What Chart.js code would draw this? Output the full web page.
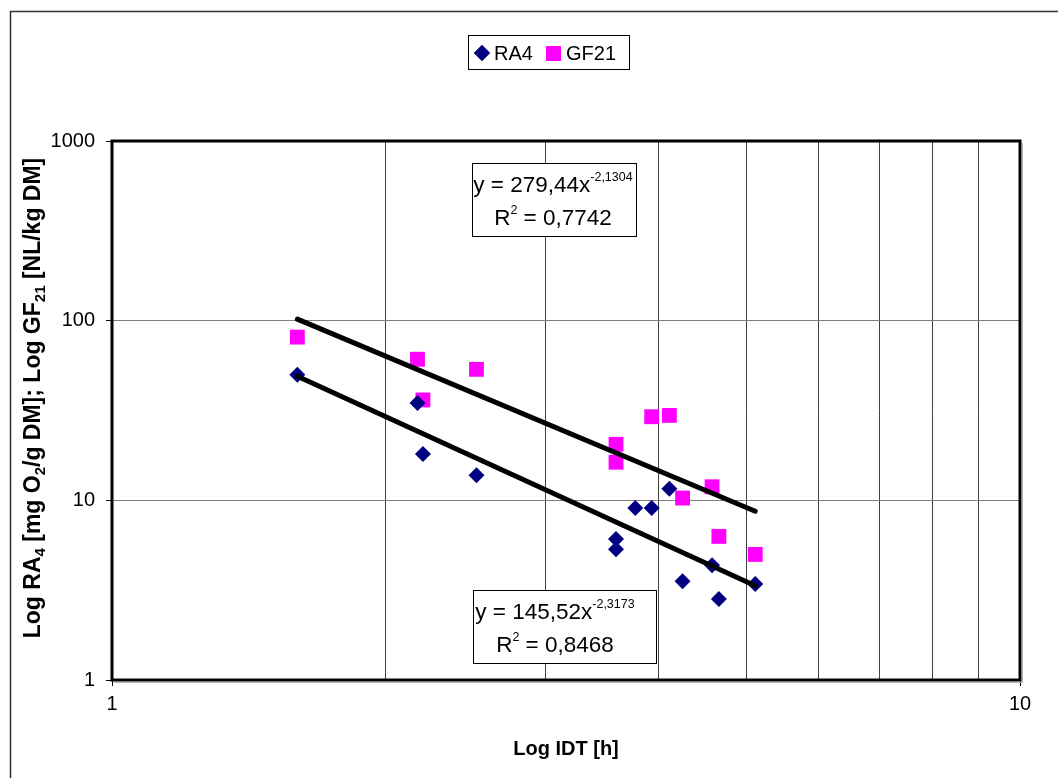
<!DOCTYPE html>
<html>
<head>
<meta charset="utf-8">
<script src="https://cdn.jsdelivr.net/npm/chart.js"></script>
<style>
  body { margin: 0; background: #fff; }
  #wrap { width: 1058px; height: 778px; position: relative; }
</style>
</head>
<body>
<div id="wrap"><canvas id="chart"></canvas></div>
<script>
// Values (x = IDT [h], y = RA4 / GF21)
const ra4X = [1.60, 2.17, 2.20, 2.52, 3.59, 3.59, 3.77, 3.93, 4.11, 4.25, 4.58, 4.66, 5.11];
const ra4Y = [50, 34.8, 18.1, 13.8, 6.1, 5.35, 9.05, 9.05, 11.6, 3.55, 4.35, 2.82, 3.42];
const gf21X = [1.60, 2.17, 2.20, 2.52, 3.59, 3.59, 3.93, 4.11, 4.25, 4.58, 4.66, 5.11];
const gf21Y = [81, 61, 36.2, 53.6, 20.5, 16.3, 29.2, 29.7, 10.3, 11.9, 6.3, 5.0];

// Power trend lines (straight in log-log), start and end points
const trendX = [1.60, 5.11];
const trendGF21Y = [102, 8.7];
const trendRA4Y = [49, 3.35];

const xTicks = [1, 2, 3, 4, 5, 6, 7, 8, 9, 10];
const xLabels = ['1', '', '', '', '', '', '', '', '', '10'];
const yTicks = [1, 10, 100, 1000];
const yLabels = ['1', '10', '100', '1000'];

const FONT = 'Arial, "Liberation Sans", sans-serif';
const NAVY = '#000080';
const MAGENTA = '#ff00ff';

const toPoints = (xs, ys) => xs.map((x, i) => ({ x: x, y: ys[i] }));

// draws text runs with sub/superscripts, starting at x
function drawRuns(ctx, runs, x, y) {
  runs.forEach(r => {
    ctx.font = r.font;
    ctx.fillText(r.t, x, y + (r.dy || 0));
    x += ctx.measureText(r.t).width;
  });
}
function runsWidth(ctx, runs) {
  let w = 0;
  runs.forEach(r => { ctx.font = r.font; w += ctx.measureText(r.t).width; });
  return w;
}

const extras = {
  id: 'extras',
  beforeDraw(chart) {
    const ctx = chart.ctx;
    ctx.save();
    ctx.fillStyle = '#fff';
    ctx.fillRect(0, 0, chart.width, chart.height);
    // outer frame
    ctx.strokeStyle = '#333';
    ctx.lineWidth = 1.5;
    ctx.strokeRect(10.5, 11.5, 1200, 1000);
    ctx.restore();
  },
  afterDraw(chart) {
    const ctx = chart.ctx;
    const a = chart.chartArea;
    ctx.save();

    // plot frame
    ctx.strokeStyle = '#b0b0b0';
    ctx.lineWidth = 1;
    ctx.beginPath();
    ctx.moveTo(a.right + 2.5, a.top + 2);
    ctx.lineTo(a.right + 2.5, a.bottom + 2.5);
    ctx.lineTo(a.left + 2, a.bottom + 2.5);
    ctx.stroke();
    ctx.strokeStyle = '#000';
    ctx.lineWidth = 3;
    ctx.strokeRect(a.left, a.top, a.right - a.left, a.bottom - a.top);

    // legend
    ctx.lineWidth = 1;
    ctx.strokeStyle = '#000';
    ctx.strokeRect(468.5, 35.5, 161, 34);
    Chart.helpers.drawPoint(ctx, { pointStyle: 'rectRot', radius: 8, rotation: 0, borderWidth: 0 }, 482, 53);
    ctx.fillStyle = NAVY;
    ctx.fill();
    ctx.fillStyle = MAGENTA;
    ctx.fillRect(546, 46, 15, 15);
    ctx.fillStyle = '#000';
    ctx.font = '20px ' + FONT;
    ctx.textBaseline = 'alphabetic';
    ctx.fillText('RA4', 494, 60);
    ctx.fillText('GF21', 566, 60);

    // trend equations
    const eqBox = (x, y, w, h, cx, a1, b1, r2) => {
      ctx.fillStyle = '#fff';
      ctx.fillRect(x, y, w, h);
      ctx.strokeStyle = '#000';
      ctx.lineWidth = 1;
      ctx.strokeRect(x + 0.5, y + 0.5, w, h);
      ctx.fillStyle = '#000';
      const big = '22.5px ' + FONT, small = '12.5px ' + FONT;
      const l1 = [{ t: 'y = ' + a1 + 'x', font: big }, { t: b1, font: small, dy: -11 }];
      const l2 = [{ t: 'R', font: big }, { t: '2', font: small, dy: -11 }, { t: ' = ' + r2, font: big }];
      drawRuns(ctx, l1, cx - runsWidth(ctx, l1) / 2, y + 29);
      drawRuns(ctx, l2, cx - runsWidth(ctx, l2) / 2, y + 62);
    };
    eqBox(472, 163, 164, 73, 553, '279,44', '-2,1304', '0,7742');
    eqBox(473, 590, 183, 73, 555, '145,52', '-2,3173', '0,8468');

    // axis titles
    ctx.fillStyle = '#000';
    ctx.font = 'bold 20px ' + FONT;
    ctx.textAlign = 'center';
    ctx.fillText('Log IDT [h]', 566, 755);
    ctx.textAlign = 'left';

    const b = 'bold 23px ' + FONT, s = 'bold 15px ' + FONT;
    const yRuns = [
      { t: 'Log RA', font: b }, { t: '4', font: s, dy: 5 },
      { t: ' [mg O', font: b }, { t: '2', font: s, dy: 5 },
      { t: '/g DM]; Log GF', font: b }, { t: '21', font: s, dy: 5 },
      { t: ' [NL/kg DM]', font: b }
    ];
    ctx.translate(40, 398);
    ctx.rotate(-Math.PI / 2);
    drawRuns(ctx, yRuns, -runsWidth(ctx, yRuns) / 2, 0);
    ctx.restore();
  }
};

new Chart(document.getElementById('chart'), {
  type: 'scatter',
  data: {
    datasets: [
      {
        label: 'RA4',
        data: toPoints(ra4X, ra4Y),
        pointStyle: 'rectRot',
        pointRadius: 8,
        backgroundColor: NAVY,
        borderColor: NAVY,
        borderWidth: 0,
        order: 2
      },
      {
        label: 'GF21',
        data: toPoints(gf21X, gf21Y),
        pointStyle: 'rect',
        pointRadius: 10.5,
        backgroundColor: MAGENTA,
        borderColor: MAGENTA,
        borderWidth: 0,
        order: 3
      },
      {
        label: 'Power (GF21)',
        data: toPoints(trendX, trendGF21Y),
        showLine: true,
        pointRadius: 0,
        borderColor: '#000',
        borderWidth: 5,
        borderCapStyle: 'round',
        order: 1
      },
      {
        label: 'Power (RA4)',
        data: toPoints(trendX, trendRA4Y),
        showLine: true,
        pointRadius: 0,
        borderColor: '#000',
        borderWidth: 5,
        borderCapStyle: 'round',
        order: 0
      }
    ]
  },
  options: {
    responsive: true,
    maintainAspectRatio: false,
    animation: false,
    events: [],
    layout: { padding: { top: 141, right: 38, left: 0, bottom: 0 } },
    plugins: {
      legend: { display: false },
      tooltip: { enabled: false }
    },
    scales: {
      x: {
        type: 'logarithmic',
        min: 1,
        max: 10,
        afterBuildTicks: s => { s.ticks = xTicks.map(v => ({ value: v })); },
        afterFit: s => { s.height = 98; },
        border: { display: false },
        grid: {
          color: '#404040',
          lineWidth: 1,
          tickLength: 6,
          tickColor: c => (c.tick && xLabels[xTicks.indexOf(c.tick.value)]) ? '#000' : 'rgba(0,0,0,0)'
        },
        ticks: {
          autoSkip: false,
          maxRotation: 0,
          padding: 6,
          color: '#000',
          font: { family: FONT, size: 20 },
          callback: (v, i) => xLabels[i]
        }
      },
      y: {
        type: 'logarithmic',
        min: 1,
        max: 1000,
        afterBuildTicks: s => { s.ticks = yTicks.map(v => ({ value: v })); },
        afterFit: s => { s.width = 112; },
        border: { display: false },
        grid: {
          color: '#808080',
          lineWidth: 1,
          tickLength: 6,
          tickColor: '#000'
        },
        ticks: {
          padding: 11,
          color: '#000',
          font: { family: FONT, size: 20 },
          callback: (v, i) => yLabels[i]
        }
      }
    }
  },
  plugins: [extras]
});
</script>
</body>
</html>
